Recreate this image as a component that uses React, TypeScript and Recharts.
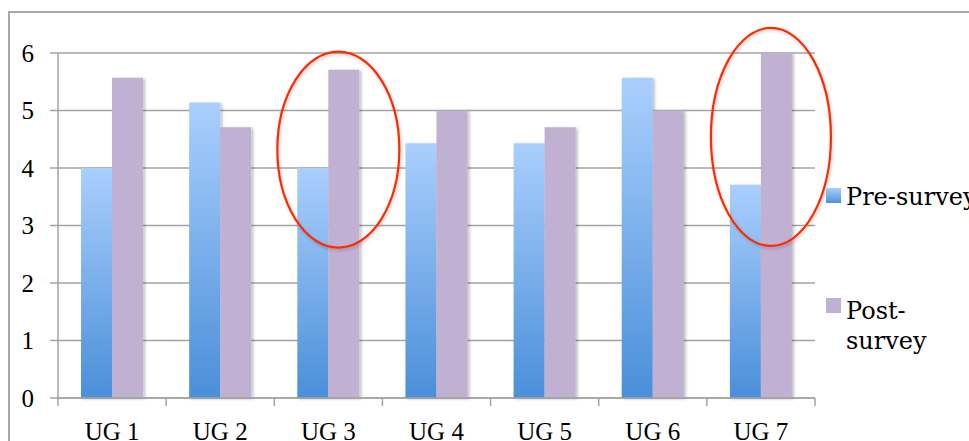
import React from 'react';
import { BarChart, Bar, XAxis, YAxis, CartesianGrid, Legend, ReferenceDot } from 'recharts';

const categories = ['UG 1', 'UG 2', 'UG 3', 'UG 4', 'UG 5', 'UG 6', 'UG 7'];
const preSurvey = [4, 5.14, 4, 4.43, 4.43, 5.57, 3.71];
const postSurvey = [5.57, 4.71, 5.71, 5, 4.71, 5, 6];
const yTicks = [0, 1, 2, 3, 4, 5, 6];
const seriesNames = ['Pre-survey', 'Post-survey'];
// highlighted groups: [category, centre value, rx, ry]
const highlights: [string, number, number, number][] = [
  ['UG 3', 4.32, 61, 98],
  ['UG 7', 4.54, 60, 109],
];

const data = categories.map((c, i) => ({ name: c, pre: preSurvey[i], post: postSurvey[i] }));

const AXIS_FONT = '"Liberation Serif", serif';
const LEGEND_FONT = '"DejaVu Serif", serif';
const GRID = '#a3a3a3';

const XTick = (props: any) => {
  const { x, y, payload, index } = props;
  const half = (payload && payload.offset) || 54;
  return (
    <g>
      <line x1={x - half} x2={x - half} y1={y - 8} y2={y} stroke={GRID} strokeWidth={1.5} />
      {index === categories.length - 1 && (
        <line x1={x + half} x2={x + half} y1={y - 8} y2={y} stroke={GRID} strokeWidth={1.5} />
      )}
      <text x={x} y={y + 16} textAnchor="middle" dy="0.71em" fontFamily={AXIS_FONT} fontSize={25} fill="#000">
        {payload.value}
      </text>
    </g>
  );
};

const LegendContent = () => (
  <div style={{ position: 'relative', width: 143, height: 441, fontFamily: LEGEND_FONT, fontSize: 24, lineHeight: '30px', color: '#000' }}>
    <div style={{ position: 'absolute', left: 0, top: 188, width: 15, height: 15, background: 'linear-gradient(#aacffd, #4f92da)' }} />
    <div style={{ position: 'absolute', left: 20, top: 182, whiteSpace: 'nowrap' }}>{seriesNames[0]}</div>
    <div style={{ position: 'absolute', left: 0, top: 298, width: 15, height: 15, background: '#c0b1d3' }} />
    <div style={{ position: 'absolute', left: 20, top: 296, whiteSpace: 'nowrap' }}>
      {seriesNames[1].slice(0, 5)}
      <br />
      {seriesNames[1].slice(5)}
    </div>
  </div>
);

export default function App() {
  return (
    <div style={{ position: 'absolute', left: 0, top: 0, width: 969, height: 441, overflow: 'hidden', background: '#fff' }}>
      <div style={{ position: 'absolute', left: 8, top: 11, width: 1100, height: 600, border: '2px solid #a8a8a8' }} />
      <BarChart
        width={969}
        height={441}
        data={data}
        margin={{ top: 53, right: 154, left: 0, bottom: 0 }}
        barCategoryGap="21.3%"
        barGap={0}
        style={{ position: 'absolute', left: 0, top: 0 }}
      >
        <defs>
          <linearGradient id="preGrad" x1="0" y1="0" x2="0" y2="1">
            <stop offset="0%" stopColor="#aacffd" />
            <stop offset="100%" stopColor="#4a8fd9" />
          </linearGradient>
          <filter id="barShadow" x="-20%" y="-5%" width="150%" height="115%">
            <feDropShadow dx="2" dy="1" stdDeviation="1.5" floodColor="#000" floodOpacity="0.25" />
          </filter>
          <filter id="ellShadow" x="-20%" y="-20%" width="140%" height="140%">
            <feDropShadow dx="1" dy="2" stdDeviation="1.5" floodColor="#000" floodOpacity="0.2" />
          </filter>
        </defs>
        <CartesianGrid horizontal vertical={false} stroke={GRID} strokeWidth={1.5} />
        <XAxis
          dataKey="name"
          height={43}
          axisLine={{ stroke: GRID, strokeWidth: 1.5 }}
          tickLine={false}
          tick={<XTick />}
          interval={0}
        />
        <YAxis
          width={58}
          domain={[0, 6]}
          ticks={yTicks}
          interval={0}
          axisLine={{ stroke: GRID, strokeWidth: 1.5 }}
          tickLine={{ stroke: GRID, strokeWidth: 1.5 }}
          tickSize={8}
          tickMargin={16}
          tick={{ fontFamily: AXIS_FONT, fontSize: 25, fill: '#000' }}
        />
        <Bar dataKey="pre" name={seriesNames[0]} fill="url(#preGrad)" filter="url(#barShadow)" isAnimationActive={false} />
        <Bar dataKey="post" name={seriesNames[1]} fill="#c0b1d3" filter="url(#barShadow)" isAnimationActive={false} />
        {highlights.map(([cat, v, rx, ry]) => (
          <ReferenceDot
            key={cat}
            x={cat}
            y={v}
            ifOverflow="visible"
            shape={(p: any) => (
              <ellipse cx={p.cx + 10} cy={p.cy} rx={rx} ry={ry} fill="none" stroke="#ff2a00" strokeWidth={2.2} filter="url(#ellShadow)" />
            )}
          />
        ))}
        <Legend
          layout="vertical"
          align="center"
          verticalAlign="middle"
          content={<LegendContent />}
          wrapperStyle={{ position: 'absolute', left: 826, top: 0, width: 143, height: 441 }}
        />
      </BarChart>
    </div>
  );
}
